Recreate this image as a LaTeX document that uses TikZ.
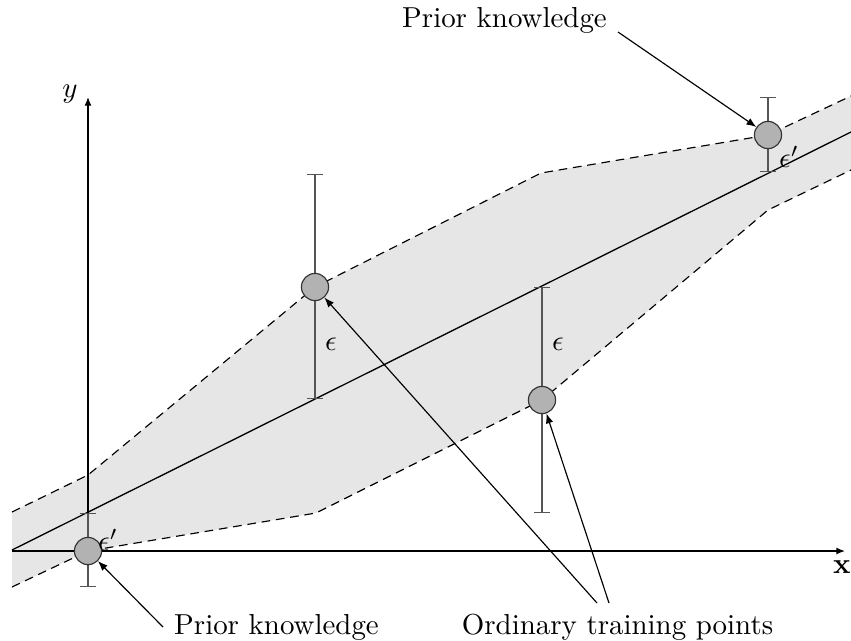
\documentclass[tikz,border=0pt]{standalone}
\usetikzlibrary{arrows.meta}
\definecolor{bandgray}{RGB}{230,230,230}
\definecolor{ptgray}{RGB}{178,178,178}
\definecolor{bargray}{RGB}{85,85,85}
\begin{document}
\begin{tikzpicture}[x=0.346pt,y=-0.346pt,
  boundary/.style={draw=black, dash pattern=on 3pt off 2pt, line width=0.4pt},
  errbar/.style={draw=bargray, line width=0.45pt, {Bar[width=5.5pt]}-{Bar[width=5.5pt]}},
  datapt/.style={circle, draw=black!80, fill=ptgray, line width=0.4pt,
                 minimum size=9.4pt, inner sep=0pt},
  pointer/.style={-{Latex[length=3.4pt,width=2.6pt]}, line width=0.4pt},
  axis/.style={-{Latex[length=3pt,width=2.4pt]}, line width=0.45pt},
  caption/.style={anchor=base, inner sep=0pt}]
  \useasboundingbox (0,0) rectangle (851,640);

  % tolerance band around the regression line
  \fill[bandgray] (12,512) -- (88,475) -- (315,287) -- (541,173) -- (768,135) -- (851,96)
    -- (851,170) -- (768,210) -- (542,400) -- (316,513) -- (88,551) -- (12,587) -- cycle;
  \draw[boundary] (12,512) -- (88,475) -- (315,287) -- (541,173) -- (768,135) -- (851,96);
  \draw[boundary] (12,587) -- (88,551) -- (316,513) -- (542,400) -- (768,210) -- (851,170);

  % regression line
  \coordinate (r0) at (12,550);
  \coordinate (r1) at (851,132);
  \draw[line width=0.45pt] (r0) -- (r1);

  % axes
  \coordinate (o) at (88,551);
  \coordinate (xs) at (12,551);
  \coordinate (xe) at (845,551);
  \coordinate (ye) at (88,97);
  \draw[axis] (xs) -- (xe);
  \draw[axis] (o) -- (ye);
  \node (xlab) at (842,567) {$\mathbf{x}$};
  \node (ylab) at (70,94) {$y$};

  % error bars
  \coordinate (e1a) at (88,513);  \coordinate (e1b) at (88,587);
  \coordinate (e2a) at (315,174); \coordinate (e2b) at (315,399);
  \coordinate (e3a) at (542,287); \coordinate (e3b) at (542,513);
  \coordinate (e4a) at (768,97);  \coordinate (e4b) at (768,172);
  \draw[errbar] (e1a) -- (e1b);
  \draw[errbar] (e2a) -- (e2b);
  \draw[errbar] (e3a) -- (e3b);
  \draw[errbar] (e4a) -- (e4b);

  % data points
  \node[datapt] (p1) at (88,551) {};
  \node[datapt] (p2) at (315,287) {};
  \node[datapt] (p3) at (542,400) {};
  \node[datapt] (p4) at (768,135) {};

  % tolerance labels
  \node (eps2) at (331,344) {$\epsilon$};
  \node (eps3) at (558,344) {$\epsilon$};
  \node (eps1) at (108,540) {$\epsilon'$};
  \node (eps4) at (789,157) {$\epsilon'$};

  % captions
  \node[caption] (priortop) at (504.5,27) {Prior knowledge};
  \node[caption] (priorbot) at (276.5,634) {Prior knowledge};
  \node[caption] (ordinary) at (617.5,634) {Ordinary training points};

  % pointers
  \coordinate (ptop) at (618,32);
  \coordinate (pbot) at (163,627);
  \coordinate (ordA) at (597,603);
  \coordinate (ordB) at (609,603);
  \draw[pointer] (ptop) -- (p4);
  \draw[pointer] (pbot) -- (p1);
  \draw[pointer] (ordA) -- (p2);
  \draw[pointer] (ordB) -- (p3);
\end{tikzpicture}
\end{document}
